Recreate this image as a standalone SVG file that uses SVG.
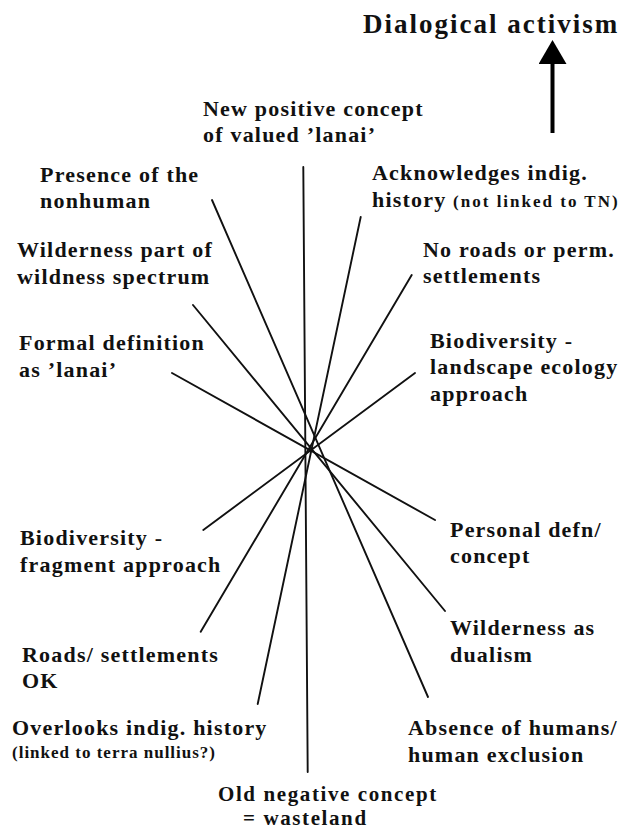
<svg xmlns="http://www.w3.org/2000/svg" width="623" height="829" viewBox="0 0 623 829">
<style>
.t{font-family:"Liberation Serif","Times New Roman",serif;font-weight:bold;font-size:22px;letter-spacing:1.2px;fill:#111}
.s{font-size:17px;letter-spacing:1px}
.s2{font-size:17px;letter-spacing:2px}
.b{font-size:21px;letter-spacing:1.6px}
.h{font-size:27px;letter-spacing:2px}
.c{stroke:#111;stroke-width:1.9;fill:none;stroke-linecap:round}
.a{stroke:#000;stroke-width:4;fill:none}
</style>
<defs>
<marker id="ah" viewBox="0 0 24 28" markerWidth="24" markerHeight="28" refX="0" refY="14" orient="auto" markerUnits="userSpaceOnUse">
<path d="M0,0 L24,14 L0,28 z" fill="#000"/>
</marker>
</defs>
<rect width="623" height="829" fill="#fff"/>
<g id="connectors">
<line class="c" x1="212" y1="200" x2="428" y2="697"/>
<line class="c" x1="193" y1="305" x2="445" y2="611"/>
<line class="c" x1="172" y1="373" x2="435" y2="520"/>
<line class="c" x1="303.3" y1="167" x2="307.7" y2="772"/>
<line class="c" x1="360.7" y1="217" x2="257.7" y2="704"/>
<line class="c" x1="411.7" y1="275" x2="200.7" y2="631.7"/>
<line class="c" x1="415" y1="373" x2="203.3" y2="530"/>
<line class="a" x1="552.5" y1="133" x2="552.5" y2="64" marker-end="url(#ah)"/>
</g>
<g id="dialogical-activism"><text class="t h" x="363" y="33">Dialogical activism</text></g>
<g id="new-positive"><text class="t" x="203" y="116">New positive concept</text><text class="t" x="203" y="142">of valued ’lanai’</text></g>
<g id="presence-nonhuman"><text class="t" x="40" y="182">Presence of the</text><text class="t" x="40" y="208">nonhuman</text></g>
<g id="acknowledges"><text class="t" x="372" y="180">Acknowledges indig.</text><text class="t" x="372" y="207">history <tspan class="s2">(not linked to TN)</tspan></text></g>
<g id="wildness-spectrum"><text class="t" x="17" y="257">Wilderness part of</text><text class="t" x="17" y="284">wildness spectrum</text></g>
<g id="no-roads"><text class="t" x="423" y="257">No roads or perm.</text><text class="t" x="423" y="283">settlements</text></g>
<g id="formal-definition"><text class="t" x="19" y="350">Formal definition</text><text class="t" x="19" y="377">as ’lanai’</text></g>
<g id="biodiversity-landscape"><text class="t" x="430" y="348">Biodiversity -</text><text class="t" x="430" y="374">landscape ecology</text><text class="t" x="430" y="401">approach</text></g>
<g id="biodiversity-fragment"><text class="t" x="20" y="545">Biodiversity -</text><text class="t" x="20" y="572">fragment approach</text></g>
<g id="personal-defn"><text class="t" x="450" y="537">Personal defn/</text><text class="t" x="450" y="563">concept</text></g>
<g id="roads-ok"><text class="t" x="22" y="662">Roads/ settlements</text><text class="t" x="22" y="688">OK</text></g>
<g id="wilderness-dualism"><text class="t" x="450" y="635">Wilderness as</text><text class="t" x="450" y="662">dualism</text></g>
<g id="overlooks"><text class="t" x="12" y="735">Overlooks indig. history</text><text class="t s" x="12" y="758">(linked to terra nullius?)</text></g>
<g id="absence-humans"><text class="t" x="408" y="735">Absence of humans/</text><text class="t" x="408" y="762">human exclusion</text></g>
<g id="old-negative"><text class="t b" x="218" y="801">Old negative concept</text><text class="t b" x="243" y="824.5">= wasteland</text></g>
</svg>
